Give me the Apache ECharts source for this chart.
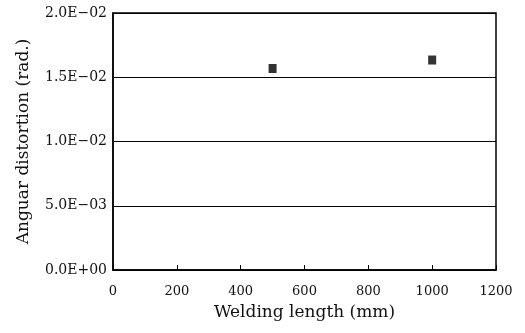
<!DOCTYPE html>
<html>
<head>
<meta charset="utf-8">
<script src="https://cdn.jsdelivr.net/npm/echarts@6/dist/echarts.min.js"></script>
<style>
  html, body { margin: 0; padding: 0; background: #fff; }
  #chart { width: 525px; height: 333px; }
</style>
</head>
<body>
<div id="chart"></div>
<script>
// Data
const weldingLength = [500, 1000];
const angularDistortion = [0.01568, 0.01634];
const yTickLabels = ["0.0E+00", "5.0E\u221203", "1.0E\u221202", "1.5E\u221202", "2.0E\u221202"];

const FONT = "'DejaVu Serif', 'Liberation Serif', serif";
const chart = echarts.init(document.getElementById("chart"));

chart.setOption({
  animation: false,
  grid: { left: 113, right: 29, top: 13, bottom: 63, show: true, borderColor: "#000", borderWidth: 1.5 },
  xAxis: {
    type: "value",
    min: 0,
    max: 1200,
    interval: 200,
    name: "Welding length (mm)",
    nameLocation: "middle",
    nameGap: 34,
    nameTextStyle: { fontFamily: FONT, fontSize: 17, color: "#111" },
    axisLine: { show: true, lineStyle: { color: "#000", width: 1.5 } },
    axisTick: { show: true, inside: true, length: 5, lineStyle: { color: "#000" } },
    axisLabel: { fontFamily: FONT, fontSize: 13, color: "#111", margin: 15, formatter: (v) => String(v) },
    splitLine: { show: false },
  },
  yAxis: {
    type: "value",
    min: 0,
    max: 0.02,
    interval: 0.005,
    name: "Anguar distortion (rad.)",
    nameLocation: "middle",
    nameGap: 81,
    nameTextStyle: { fontFamily: FONT, fontSize: 17, color: "#111" },
    axisLine: { show: true, lineStyle: { color: "#000", width: 1.5 } },
    axisTick: { show: false },
    axisLabel: {
      fontFamily: FONT,
      fontSize: 14,
      color: "#111",
      margin: 6,
      formatter: (v) => yTickLabels[Math.round(v / 0.005)],
    },
    splitLine: { show: true, lineStyle: { color: "#000", width: 1 } },
  },
  series: [
    {
      type: "scatter",
      data: weldingLength.map((x, i) => [x, angularDistortion[i]]),
      symbol: "rect",
      symbolSize: [8, 9],
      itemStyle: { color: "#000" },
    },
  ],
});
</script>
</body>
</html>
